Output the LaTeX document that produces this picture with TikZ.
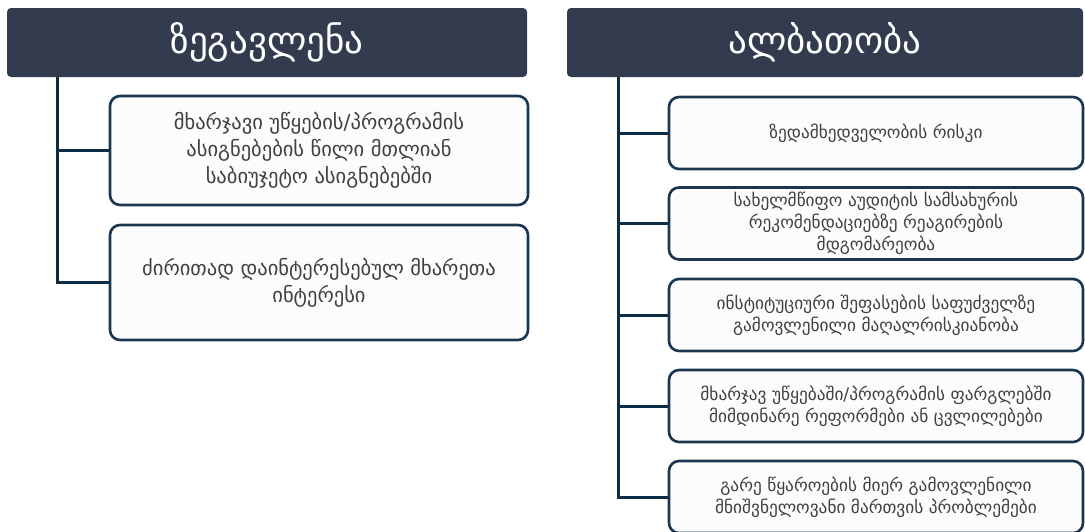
\documentclass[tikz,border=0pt]{standalone}
\usepackage{fontspec}
\setmainfont{DejaVu Sans}
\definecolor{hdrfill}{HTML}{333B4F}
\definecolor{boxline}{HTML}{1A3650}
\definecolor{connline}{HTML}{0F2D45}
\definecolor{txt}{HTML}{404040}
\tikzset{
  hdr/.style={draw=none, fill=hdrfill, rounded corners=4pt, text=white, font=\fontsize{37}{40}\selectfont, inner sep=0pt},
  lbox/.style={draw=boxline, line width=2.6pt, fill=white!99!black, rounded corners=10pt, text=txt, align=center, inner sep=0pt, minimum width=418pt, font=\fontsize{20.5}{27}\selectfont},
  rbox/.style={draw=boxline, line width=2.6pt, fill=white!99!black, rounded corners=10pt, text=txt, align=center, inner sep=0pt, minimum width=414pt, minimum height=72pt, font=\fontsize{17.3}{22}\selectfont},
  conn/.style={draw=connline, line width=3pt}
}
\begin{document}
\begin{tikzpicture}[x=1pt,y=-1pt]
\useasboundingbox (0,0) rectangle (1085,531);
\node[hdr, minimum width=520pt, minimum height=69pt] (h1) at (267,42.5) {ზეგავლენა};
\node[hdr, minimum width=516pt, minimum height=69pt] (h2) at (825,42.5) {ალბათობა};

\node[lbox, minimum height=109pt] (l1) at (319,150.5) {მხარჯავი უწყების/პროგრამის\\ასიგნებების წილი მთლიან\\საბიუჯეტო ასიგნებებში};
\node[lbox, minimum height=115pt] (l2) at (319,282.5) {ძირითად დაინტერესებულ მხარეთა\\ინტერესი};

\node[rbox] (r1) at (876,133) {ზედამხედველობის რისკი};
\node[rbox] (r2) at (876,223.5) {სახელმწიფო აუდიტის სამსახურის\\რეკომენდაციებზე რეაგირების\\მდგომარეობა};
\node[rbox] (r3) at (876,315) {ინსტიტუციური შეფასების საფუძველზე\\გამოვლენილი მაღალრისკიანობა};
\node[rbox] (r4) at (876,406) {მხარჯავ უწყებაში/პროგრამის ფარგლებში\\მიმდინარე რეფორმები ან  ცვლილებები};
\node[rbox] (r5) at (876,497) {გარე წყაროების მიერ გამოვლენილი\\მნიშვნელოვანი მართვის პრობლემები};

\coordinate (t1) at (57,77);
\coordinate (t2) at (618,77);
\draw[conn] (t1) |- (l2.west);
\draw[conn] (t1 |- l1.west) -- (l1.west);
\draw[conn] (t2) |- (r5.west);
\foreach \n in {r1,r2,r3,r4}{\draw[conn] (t2 |- \n.west) -- (\n.west);}
\end{tikzpicture}
\end{document}
